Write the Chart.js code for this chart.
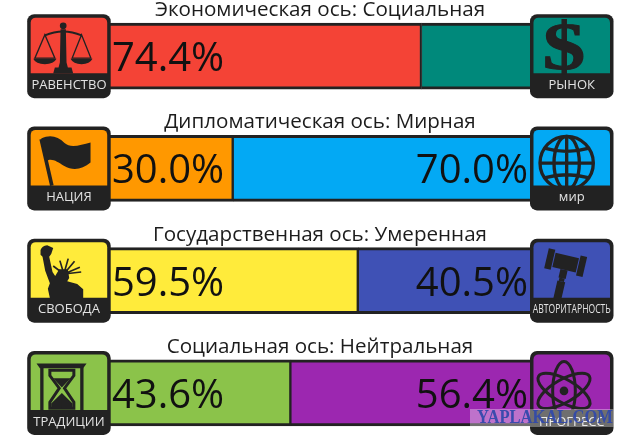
<!DOCTYPE html>
<html>
<head>
<meta charset="utf-8">
<title>8values</title>
<script src="https://cdn.jsdelivr.net/npm/chart.js@4"></script>
<style>
    html, body { margin: 0; padding: 0; background: #fff; overflow: hidden; }
    #wrap { width: 640px; height: 448px; overflow: hidden; }
    canvas { display: block; }
</style>
</head>
<body>
<div id="wrap"><canvas id="axes" width="640" height="449"></canvas></div>
<script>
const axisTitles = [
    "Экономическая ось: Социальная",
    "Дипломатическая ось: Мирная",
    "Государственная ось: Умеренная",
    "Социальная ось: Нейтральная",
];
const leftValues = [74.4, 30.0, 59.5, 43.6];
const rightValues = [25.6, 70.0, 40.5, 56.4];
const leftNames = ["РАВЕНСТВО", "НАЦИЯ", "СВОБОДА", "ТРАДИЦИИ"];
const rightNames = ["РЫНОК", "мир", "АВТОРИТАРНОСТЬ", "ПРОГРЕСС"];
const leftColors = ["#f44336", "#ff9800", "#ffeb3b", "#8bc34a"];
const rightColors = ["#00897b", "#03a9f4", "#3f51b5", "#9c27b0"];
const leftIcons = ["scales", "flag", "liberty", "hourglass"];
const rightIcons = ["dollar", "globe", "gavel", "atom"];

const DARK = "#222222";
const FONT = '"Open Sans", sans-serif';
// a side narrower than this gets no percentage
const MIN_LABEL_VALUE = 30;

// Icons are drawn in a 250x252 box, the badge size at 3x
const iconDrawers = {
    scales(ctx) {
        ctx.lineWidth = 6;
        ctx.beginPath(); ctx.arc(108, 35, 10, 0, Math.PI * 2); ctx.fill();
        ctx.beginPath(); ctx.moveTo(53, 64); ctx.quadraticCurveTo(108, 40, 163, 64); ctx.stroke();
        ctx.lineWidth = 4;
        ctx.stroke(new Path2D("M53 62L23 132H83ZM163 62L135 132H191Z"));
        ctx.fill(new Path2D("M18 134H88Q80 150 53 150Q26 150 18 134ZM130 134H196Q188 150 163 150Q138 150 130 134Z"));
        ctx.fill(new Path2D("M100 45H116L118 145L122 160H133L138 178H78L83 160H94L98 145Z"));
    },
    flag(ctx) {
        ctx.lineWidth = 11;
        ctx.beginPath(); ctx.moveTo(42, 38); ctx.lineTo(74, 178); ctx.stroke();
        ctx.fill(new Path2D("M42 36C70 24 92 30 112 50C130 66 160 56 190 48V108C165 128 140 135 110 118C90 105 70 92 56 106Z"));
    },
    liberty(ctx) {
        ctx.fill(new Path2D("M40 34Q44 22 60 20L78 28L72 46L66 54L76 100L84 112L96 92L122 92L126 118L120 128L150 136L168 152V178H68L62 150L68 134L54 96L46 54L40 48Z"));
        ctx.lineWidth = 5;
        ctx.stroke(new Path2D("M110 106L123 60M110 106L158 86M110 106L162 100M110 106L78 82M110 106L98 66M110 106L142 68"));
    },
    hourglass(ctx) {
        ctx.fill(new Path2D("M28 38H178L168 52H38Z"));
        ctx.lineWidth = 10;
        ctx.stroke(new Path2D("M44 50V178M164 50V178"));
        ctx.lineWidth = 9;
        ctx.stroke(new Path2D("M68 58H140V74L112 112L140 154V172H68V154L96 112L68 74Z"));
        ctx.fill(new Path2D("M104 126L136 158V172H104ZM104 126L72 158V172H104Z"));
        ctx.fill(new Path2D("M78 82H130L104 110Z"));
    },
    dollar(ctx) {
        // the glyph runs at 3x because of the box scale, stretched to the wide original
        ctx.save();
        ctx.translate(102, 166);
        ctx.scale(1.25, 1);
        ctx.font = 'bold 204px "Liberation Serif", serif';
        ctx.textAlign = "center";
        ctx.textBaseline = "alphabetic";
        ctx.lineWidth = 3;
        ctx.fillText("$", 0, 0);
        ctx.strokeText("$", 0, 0);
        ctx.restore();
    },
    globe(ctx) {
        ctx.lineWidth = 10;
        ctx.beginPath(); ctx.arc(110, 110, 80, 0, Math.PI * 2); ctx.stroke();
        ctx.beginPath(); ctx.ellipse(110, 110, 38, 80, 0, 0, Math.PI * 2); ctx.stroke();
        ctx.stroke(new Path2D("M110 30V190M30 110H190M46 66Q110 84 174 66M46 154Q110 136 174 154"));
    },
    gavel(ctx) {
        ctx.save();
        ctx.translate(107, 72);
        ctx.rotate(13 * Math.PI / 180);
        ctx.fillRect(-36, -22, 72, 44);
        ctx.fillRect(-59, -31, 20, 62);
        ctx.fillRect(39, -31, 20, 62);
        ctx.fillRect(-11, 22, 22, 26);
        ctx.fillRect(-8, 48, 16, 10);
        ctx.fillRect(-12, 58, 24, 56);
        ctx.restore();
    },
    atom(ctx) {
        ctx.lineWidth = 9;
        [Math.PI / 2, Math.PI / 6, -Math.PI / 6].forEach((angle) => {
            ctx.beginPath(); ctx.ellipse(102, 120, 88, 34, angle, 0, Math.PI * 2); ctx.stroke();
        });
        ctx.beginPath(); ctx.arc(102, 120, 13, 0, Math.PI * 2); ctx.fill();
    },
};

// One badge: dark rounded frame, coloured panel, icon, name strip
function drawBadge(ctx, x, y, color, icon, name) {
    const w = 83.5, h = 84;
    ctx.save();
    ctx.fillStyle = DARK;
    ctx.beginPath(); ctx.roundRect(x, y, w, h, 7); ctx.fill();
    ctx.fillStyle = color;
    ctx.beginPath(); ctx.roundRect(x + 3.5, y + 3.5, w - 7, 55.5, [5, 5, 0, 0]); ctx.fill();

    ctx.save();
    ctx.translate(x, y);
    ctx.scale(1 / 3, 1 / 3);
    ctx.fillStyle = DARK;
    ctx.strokeStyle = DARK;
    iconDrawers[icon](ctx);
    ctx.restore();

    ctx.fillStyle = "#e2e2e2";
    ctx.font = "13px " + FONT;
    ctx.textAlign = "center";
    ctx.textBaseline = "middle";
    ctx.fillText(name, x + w / 2, y + 71, 78);
    ctx.restore();
}

const decorations = {
    id: "decorations",
    afterDatasetsDraw(chart) {
        const { ctx, scales } = chart;
        ctx.save();
        axisTitles.forEach((title, i) => {
            const rowY = scales.y.getPixelForValue(i);

            ctx.fillStyle = "#1c1c1c";
            ctx.font = "20.6px " + FONT;
            ctx.textAlign = "center";
            ctx.textBaseline = "alphabetic";
            ctx.fillText(title, 320, rowY - 40);

            ctx.fillStyle = "#111111";
            ctx.font = "40px " + FONT;
            ctx.textBaseline = "alphabetic";
            if (leftValues[i] >= MIN_LABEL_VALUE) {
                ctx.textAlign = "left";
                ctx.fillText(leftValues[i].toFixed(1) + "%", 112, rowY + 15);
            }
            if (rightValues[i] >= MIN_LABEL_VALUE) {
                ctx.textAlign = "right";
                ctx.fillText(rightValues[i].toFixed(1) + "%", 528, rowY + 15);
            }

            drawBadge(ctx, 27.2, rowY - 42, leftColors[i], leftIcons[i], leftNames[i]);
            drawBadge(ctx, 530, rowY - 42, rightColors[i], rightIcons[i], rightNames[i]);
        });

        // watermark strip across the last row
        ctx.fillStyle = "rgba(255,255,255,0.35)";
        ctx.fillRect(470, 409, 143.5, 18);
        ctx.fillStyle = "rgba(48,72,170,0.92)";
        ctx.font = 'bold 18px "Liberation Serif", serif';
        ctx.textAlign = "left";
        ctx.textBaseline = "middle";
        ctx.fillText("YAPLAKAL.COM", 477, 418.5, 136);
        ctx.restore();
    },
};

new Chart(document.getElementById("axes"), {
    type: "bar",
    data: {
        labels: axisTitles,
        datasets: [
            {
                label: "left",
                data: leftValues,
                backgroundColor: leftColors,
                borderColor: DARK,
                borderWidth: { top: 3, bottom: 3, left: 0, right: 2 },
                borderSkipped: false,
                barThickness: 66,
            },
            {
                label: "right",
                data: rightValues,
                backgroundColor: rightColors,
                borderColor: DARK,
                borderWidth: { top: 3, bottom: 3, left: 1, right: 0 },
                borderSkipped: false,
                barThickness: 66,
            },
        ],
    },
    options: {
        indexAxis: "y",
        responsive: false,
        animation: false,
        layout: { padding: { left: 106, right: 110, top: 0, bottom: 0 } },
        scales: {
            x: { stacked: true, display: false, min: 0, max: 100 },
            y: { stacked: true, display: false },
        },
        plugins: {
            legend: { display: false },
            tooltip: { enabled: false },
        },
    },
    plugins: [decorations],
});
</script>
</body>
</html>
